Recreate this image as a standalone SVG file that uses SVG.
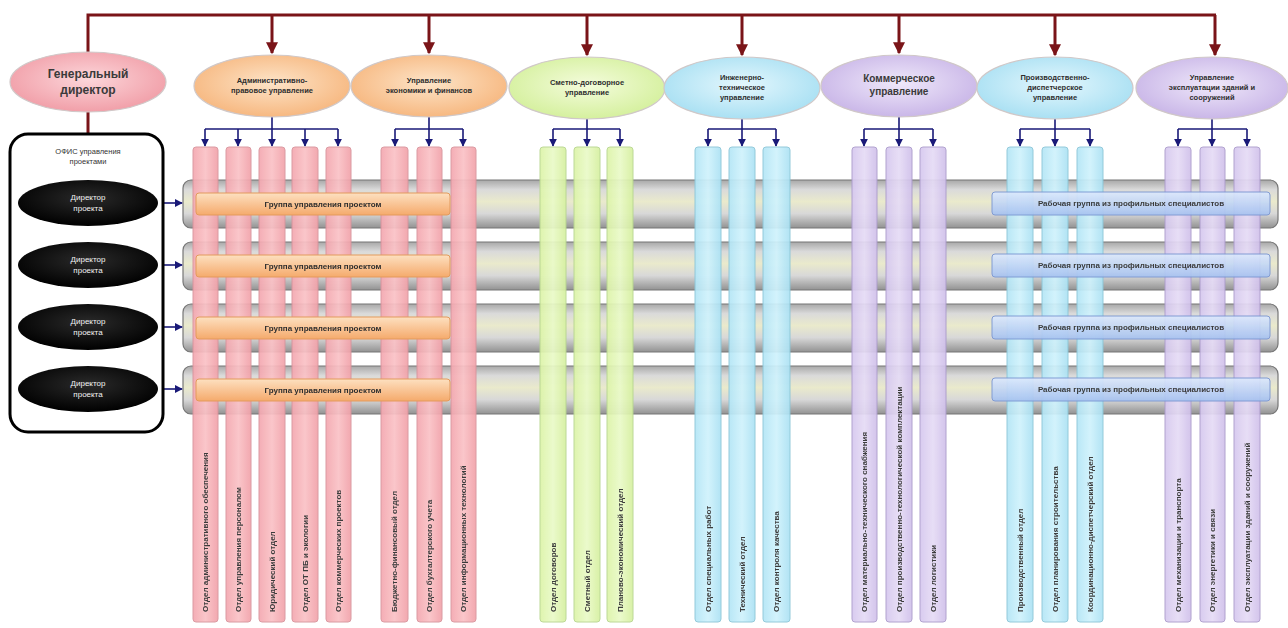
<svg xmlns="http://www.w3.org/2000/svg" width="1288" height="628" viewBox="0 0 1288 628">
  <defs>
    <radialGradient id="gPink" cx="50%" cy="45%" r="60%"><stop offset="0" stop-color="#fcd6da"/><stop offset="1" stop-color="#f09aa4"/></radialGradient>
    <radialGradient id="gOrange" cx="50%" cy="45%" r="60%"><stop offset="0" stop-color="#fde4c8"/><stop offset="1" stop-color="#f6b47a"/></radialGradient>
    <radialGradient id="gGreen" cx="50%" cy="45%" r="60%"><stop offset="0" stop-color="#f4fcdc"/><stop offset="1" stop-color="#d2ef98"/></radialGradient>
    <radialGradient id="gCyan" cx="50%" cy="45%" r="60%"><stop offset="0" stop-color="#e4f7fd"/><stop offset="1" stop-color="#a4def2"/></radialGradient>
    <radialGradient id="gPurple" cx="50%" cy="45%" r="60%"><stop offset="0" stop-color="#efe8fa"/><stop offset="1" stop-color="#c6b2e6"/></radialGradient>
    <radialGradient id="gBlack" cx="50%" cy="40%" r="60%"><stop offset="0" stop-color="#2a2a2a"/><stop offset="1" stop-color="#000"/></radialGradient>
    <linearGradient id="gBar" x1="0" y1="0" x2="0" y2="1">
      <stop offset="0" stop-color="#a8a8a8"/><stop offset="0.2" stop-color="#dadada"/>
      <stop offset="0.45" stop-color="#eaeacc"/><stop offset="0.7" stop-color="#d8d8d8"/>
      <stop offset="1" stop-color="#929292"/>
    </linearGradient>
    <linearGradient id="gOrangeBar" x1="0" y1="0" x2="0" y2="1"><stop offset="0" stop-color="#fde0c0"/><stop offset="1" stop-color="#f5aa6c"/></linearGradient>
    <linearGradient id="gBlueBar" x1="0" y1="0" x2="0" y2="1"><stop offset="0" stop-color="#dce8fc"/><stop offset="1" stop-color="#a6c2ef"/></linearGradient>
    <linearGradient id="cPink" x1="0" y1="0" x2="1" y2="0"><stop offset="0" stop-color="#f4a8b0"/><stop offset="0.5" stop-color="#fac2c6"/><stop offset="1" stop-color="#f2a2aa"/></linearGradient>
    <linearGradient id="cGreen" x1="0" y1="0" x2="1" y2="0"><stop offset="0" stop-color="#dcf4a8"/><stop offset="0.5" stop-color="#eafac8"/><stop offset="1" stop-color="#d6f0a0"/></linearGradient>
    <linearGradient id="cCyan" x1="0" y1="0" x2="1" y2="0"><stop offset="0" stop-color="#b4e6f6"/><stop offset="0.5" stop-color="#d0f2fc"/><stop offset="1" stop-color="#ace2f4"/></linearGradient>
    <linearGradient id="cPurple" x1="0" y1="0" x2="1" y2="0"><stop offset="0" stop-color="#d6c8ee"/><stop offset="0.5" stop-color="#e6dcf6"/><stop offset="1" stop-color="#d0c0ea"/></linearGradient>
    <marker id="arrRed" viewBox="0 0 10 10" refX="9" refY="5" markerWidth="4" markerHeight="4" orient="auto"><path d="M0,0 L10,5 L0,10 z" fill="#7a1418"/></marker>
    <marker id="arrBlue" viewBox="0 0 10 10" refX="9" refY="5" markerWidth="5" markerHeight="5" orient="auto"><path d="M0,0 L10,5 L0,10 z" fill="#1a1a78"/></marker>
  </defs>
  <style>
    .t { font-family: "Liberation Sans", Arial, sans-serif; fill: #2e2e2e; font-weight: bold; }
    .head { font-size: 7.5px; text-anchor: middle; }
    .big { font-size: 12px; text-anchor: middle; fill: #3a3a3a; }
    .mid { font-size: 10px; text-anchor: middle; fill: #3a3a3a; }
    .col { font-size: 8px; text-anchor: start; }
    .bartxt { font-size: 8px; text-anchor: middle; }
    .wt { fill: #f2f2f2; font-size: 8px; text-anchor: middle; font-weight: normal; }
    .ell { stroke: #d0c8c8; stroke-width: 1.2; }
    .bar { fill: url(#gBar); stroke: #767676; stroke-width: 1.2; }
    .ob { fill: url(#gOrangeBar); stroke: #e39a5c; stroke-width: 1; }
    .bb { fill: url(#gBlueBar); stroke: #7a96d2; stroke-width: 1; }
    .red { stroke: #7a1418; stroke-width: 3; fill: none; }
    .blu { stroke: #1a1a78; stroke-width: 1.6; fill: none; }
    .pk { fill: url(#cPink); stroke: #d8949c; stroke-width: 1; }
    .gr { fill: url(#cGreen); stroke: #b8d690; stroke-width: 1; }
    .cy { fill: url(#cCyan); stroke: #8cc6d8; stroke-width: 1; }
    .pu { fill: url(#cPurple); stroke: #ac9ccc; stroke-width: 1; }
  </style>

  <rect width="1288" height="628" fill="#ffffff"/>

  <!-- project rows (grey bands) -->
  <g id="rows">
    <rect class="bar" x="183" y="180" width="1095" height="48" rx="8"/>
    <rect class="bar" x="183" y="242" width="1095" height="48" rx="8"/>
    <rect class="bar" x="183" y="304" width="1095" height="48" rx="8"/>
    <rect class="bar" x="183" y="366" width="1095" height="48" rx="8"/>
  </g>

  <!-- connectors -->
  <g id="connectors">
    <polyline class="red" points="88,53 88,15 1216,15"/>
    <line class="red" x1="272" y1="15" x2="272" y2="53" marker-end="url(#arrRed)"/>
    <line class="red" x1="429" y1="15" x2="429" y2="53" marker-end="url(#arrRed)"/>
    <line class="red" x1="587" y1="15" x2="587" y2="55" marker-end="url(#arrRed)"/>
    <line class="red" x1="742" y1="15" x2="742" y2="55" marker-end="url(#arrRed)"/>
    <line class="red" x1="899" y1="15" x2="899" y2="53" marker-end="url(#arrRed)"/>
    <line class="red" x1="1055" y1="15" x2="1055" y2="55" marker-end="url(#arrRed)"/>
    <line class="red" x1="1215" y1="15" x2="1215" y2="55" marker-end="url(#arrRed)"/>
    <line class="red" x1="88" y1="112" x2="88" y2="134"/>

    <!-- department branches -->
    <path class="blu" d="M272,117 V129 M205,129 H338"/>
    <line class="blu" x1="205" y1="129" x2="205" y2="146" marker-end="url(#arrBlue)"/>
    <line class="blu" x1="238" y1="129" x2="238" y2="146" marker-end="url(#arrBlue)"/>
    <line class="blu" x1="272" y1="129" x2="272" y2="146" marker-end="url(#arrBlue)"/>
    <line class="blu" x1="305" y1="129" x2="305" y2="146" marker-end="url(#arrBlue)"/>
    <line class="blu" x1="338" y1="129" x2="338" y2="146" marker-end="url(#arrBlue)"/>

    <path class="blu" d="M429,117 V129 M395,129 H463"/>
    <line class="blu" x1="395" y1="129" x2="395" y2="146" marker-end="url(#arrBlue)"/>
    <line class="blu" x1="429" y1="129" x2="429" y2="146" marker-end="url(#arrBlue)"/>
    <line class="blu" x1="463" y1="129" x2="463" y2="146" marker-end="url(#arrBlue)"/>

    <path class="blu" d="M587,119 V129 M553,129 H620"/>
    <line class="blu" x1="553" y1="129" x2="553" y2="146" marker-end="url(#arrBlue)"/>
    <line class="blu" x1="587" y1="129" x2="587" y2="146" marker-end="url(#arrBlue)"/>
    <line class="blu" x1="620" y1="129" x2="620" y2="146" marker-end="url(#arrBlue)"/>

    <path class="blu" d="M742,119 V129 M708,129 H776"/>
    <line class="blu" x1="708" y1="129" x2="708" y2="146" marker-end="url(#arrBlue)"/>
    <line class="blu" x1="742" y1="129" x2="742" y2="146" marker-end="url(#arrBlue)"/>
    <line class="blu" x1="776" y1="129" x2="776" y2="146" marker-end="url(#arrBlue)"/>

    <path class="blu" d="M899,117 V129 M864,129 H933"/>
    <line class="blu" x1="864" y1="129" x2="864" y2="146" marker-end="url(#arrBlue)"/>
    <line class="blu" x1="899" y1="129" x2="899" y2="146" marker-end="url(#arrBlue)"/>
    <line class="blu" x1="933" y1="129" x2="933" y2="146" marker-end="url(#arrBlue)"/>

    <path class="blu" d="M1055,119 V129 M1020,129 H1090"/>
    <line class="blu" x1="1020" y1="129" x2="1020" y2="146" marker-end="url(#arrBlue)"/>
    <line class="blu" x1="1055" y1="129" x2="1055" y2="146" marker-end="url(#arrBlue)"/>
    <line class="blu" x1="1090" y1="129" x2="1090" y2="146" marker-end="url(#arrBlue)"/>

    <path class="blu" d="M1212,119 V129 M1178,129 H1247"/>
    <line class="blu" x1="1178" y1="129" x2="1178" y2="146" marker-end="url(#arrBlue)"/>
    <line class="blu" x1="1212" y1="129" x2="1212" y2="146" marker-end="url(#arrBlue)"/>
    <line class="blu" x1="1247" y1="129" x2="1247" y2="146" marker-end="url(#arrBlue)"/>

    <!-- project directors to rows -->
    <line class="blu" x1="158" y1="203" x2="182" y2="203" marker-end="url(#arrBlue)"/>
    <line class="blu" x1="158" y1="265" x2="182" y2="265" marker-end="url(#arrBlue)"/>
    <line class="blu" x1="158" y1="327" x2="182" y2="327" marker-end="url(#arrBlue)"/>
    <line class="blu" x1="158" y1="389" x2="182" y2="389" marker-end="url(#arrBlue)"/>
  </g>

  <!-- top-level nodes -->
  <g id="gen-director">
    <ellipse class="ell" cx="88" cy="82" rx="78" ry="30" fill="url(#gPink)"/>
    <text class="t big" x="88" y="78">Генеральный</text>
    <text class="t big" x="88" y="94">директор</text>
  </g>
  <g id="admin">
    <ellipse class="ell" cx="272" cy="86" rx="78" ry="31" fill="url(#gOrange)"/>
    <text class="t head" x="272" y="83">Административно-</text>
    <text class="t head" x="272" y="93">правовое управление</text>
  </g>
  <g id="economy">
    <ellipse class="ell" cx="429" cy="86" rx="78" ry="31" fill="url(#gOrange)"/>
    <text class="t head" x="429" y="83">Управление</text>
    <text class="t head" x="429" y="93">экономики и финансов</text>
  </g>
  <g id="estimates">
    <ellipse class="ell" cx="587" cy="88" rx="78" ry="31" fill="url(#gGreen)"/>
    <text class="t head" x="587" y="85">Сметно-договорное</text>
    <text class="t head" x="587" y="95">управление</text>
  </g>
  <g id="engineering">
    <ellipse class="ell" cx="742" cy="88" rx="78" ry="31" fill="url(#gCyan)"/>
    <text class="t head" x="742" y="80">Инженерно-</text>
    <text class="t head" x="742" y="90">техническое</text>
    <text class="t head" x="742" y="100">управление</text>
  </g>
  <g id="commercial">
    <ellipse class="ell" cx="899" cy="86" rx="78" ry="31" fill="url(#gPurple)"/>
    <text class="t mid" x="899" y="82">Коммерческое</text>
    <text class="t mid" x="899" y="95">управление</text>
  </g>
  <g id="production">
    <ellipse class="ell" cx="1055" cy="88" rx="78" ry="31" fill="url(#gCyan)"/>
    <text class="t head" x="1055" y="80">Производственно-</text>
    <text class="t head" x="1055" y="90">диспетчерское</text>
    <text class="t head" x="1055" y="100">управление</text>
  </g>
  <g id="operations">
    <ellipse class="ell" cx="1212" cy="88" rx="76" ry="31" fill="url(#gPurple)"/>
    <text class="t head" x="1212" y="80">Управление</text>
    <text class="t head" x="1212" y="90">эксплуатации зданий и</text>
    <text class="t head" x="1212" y="100">сооружений</text>
  </g>

  <!-- project management office -->
  <g id="pmo">
    <rect x="10" y="134" width="153" height="298" rx="18" fill="#ffffff" stroke="#000" stroke-width="3"/>
    <text class="t head" x="88" y="154" style="font-weight:normal;fill:#333">ОФИС управления</text>
    <text class="t head" x="88" y="164" style="font-weight:normal;fill:#333">проектами</text>
    <ellipse cx="88" cy="203" rx="70" ry="23" fill="url(#gBlack)"/>
    <text class="t wt" x="88" y="200">Директор</text><text class="t wt" x="88" y="211">проекта</text>
    <ellipse cx="88" cy="265" rx="70" ry="23" fill="url(#gBlack)"/>
    <text class="t wt" x="88" y="262">Директор</text><text class="t wt" x="88" y="273">проекта</text>
    <ellipse cx="88" cy="327" rx="70" ry="23" fill="url(#gBlack)"/>
    <text class="t wt" x="88" y="324">Директор</text><text class="t wt" x="88" y="335">проекта</text>
    <ellipse cx="88" cy="389" rx="70" ry="23" fill="url(#gBlack)"/>
    <text class="t wt" x="88" y="386">Директор</text><text class="t wt" x="88" y="397">проекта</text>
  </g>

  <!-- departments (vertical columns) -->
  <g id="departments" opacity="0.93">
    <g id="dep-admin">
      <rect class="pk" x="193" y="147" width="25" height="475" rx="3"/>
      <rect class="pk" x="226" y="147" width="25" height="475" rx="3"/>
      <rect class="pk" x="259" y="147" width="26" height="475" rx="3"/>
      <rect class="pk" x="292" y="147" width="26" height="475" rx="3"/>
      <rect class="pk" x="326" y="147" width="25" height="475" rx="3"/>
      <text class="t col" transform="translate(208,612) rotate(-90)">Отдел административного обеспечения</text>
      <text class="t col" transform="translate(241,612) rotate(-90)">Отдел управления персоналом</text>
      <text class="t col" transform="translate(275,612) rotate(-90)">Юридический отдел</text>
      <text class="t col" transform="translate(308,612) rotate(-90)">Отдел ОТ ПБ и экологии</text>
      <text class="t col" transform="translate(341,612) rotate(-90)">Отдел коммерческих проектов</text>
    </g>
    <g id="dep-economy">
      <rect class="pk" x="381" y="147" width="27" height="475" rx="3"/>
      <rect class="pk" x="417" y="147" width="25" height="475" rx="3"/>
      <rect class="pk" x="451" y="147" width="25" height="475" rx="3"/>
      <text class="t col" transform="translate(397,612) rotate(-90)">Бюджетно-финансовый отдел</text>
      <text class="t col" transform="translate(432,612) rotate(-90)">Отдел бухгалтерского учета</text>
      <text class="t col" transform="translate(466,612) rotate(-90)">Отдел информационных технологий</text>
    </g>
    <g id="dep-estimates">
      <rect class="gr" x="540" y="147" width="26" height="475" rx="3"/>
      <rect class="gr" x="574" y="147" width="26" height="475" rx="3"/>
      <rect class="gr" x="607" y="147" width="26" height="475" rx="3"/>
      <text class="t col" transform="translate(556,612) rotate(-90)">Отдел договоров</text>
      <text class="t col" transform="translate(590,612) rotate(-90)">Сметный отдел</text>
      <text class="t col" transform="translate(623,612) rotate(-90)">Планово-экономический отдел</text>
    </g>
    <g id="dep-engineering">
      <rect class="cy" x="695" y="147" width="26" height="475" rx="3"/>
      <rect class="cy" x="729" y="147" width="26" height="475" rx="3"/>
      <rect class="cy" x="763" y="147" width="27" height="475" rx="3"/>
      <text class="t col" transform="translate(711,612) rotate(-90)">Отдел специальных работ</text>
      <text class="t col" transform="translate(745,612) rotate(-90)">Технический отдел</text>
      <text class="t col" transform="translate(779,612) rotate(-90)">Отдел контроля качества</text>
    </g>
    <g id="dep-commercial">
      <rect class="pu" x="852" y="147" width="25" height="475" rx="3"/>
      <rect class="pu" x="886" y="147" width="26" height="475" rx="3"/>
      <rect class="pu" x="920" y="147" width="26" height="475" rx="3"/>
      <text class="t col" transform="translate(867,612) rotate(-90)">Отдел материально-технического снабжения</text>
      <text class="t col" transform="translate(902,612) rotate(-90)">Отдел производственно-технологической комплектации</text>
      <text class="t col" transform="translate(936,612) rotate(-90)">Отдел логистики</text>
    </g>
    <g id="dep-production">
      <rect class="cy" x="1007" y="147" width="26" height="475" rx="3"/>
      <rect class="cy" x="1042" y="147" width="26" height="475" rx="3"/>
      <rect class="cy" x="1077" y="147" width="26" height="475" rx="3"/>
      <text class="t col" transform="translate(1023,612) rotate(-90)">Производственный отдел</text>
      <text class="t col" transform="translate(1058,612) rotate(-90)">Отдел планирования строительства</text>
      <text class="t col" transform="translate(1093,612) rotate(-90)">Координационно-диспетчерский отдел</text>
    </g>
    <g id="dep-operations">
      <rect class="pu" x="1165" y="147" width="26" height="475" rx="3"/>
      <rect class="pu" x="1200" y="147" width="25" height="475" rx="3"/>
      <rect class="pu" x="1234" y="147" width="26" height="475" rx="3"/>
      <text class="t col" transform="translate(1181,612) rotate(-90)">Отдел механизации и транспорта</text>
      <text class="t col" transform="translate(1215,612) rotate(-90)">Отдел энергетики и связи</text>
      <text class="t col" transform="translate(1250,612) rotate(-90)">Отдел эксплуатации зданий и сооружений</text>
    </g>
  </g>

  <!-- project teams -->
  <g id="project-teams">
    <rect class="ob" x="196" y="193" width="254" height="22" rx="3"/>
    <text class="t bartxt" x="323" y="207">Группа управления проектом</text>
    <rect class="ob" x="196" y="255" width="254" height="22" rx="3"/>
    <text class="t bartxt" x="323" y="269">Группа управления проектом</text>
    <rect class="ob" x="196" y="317" width="254" height="22" rx="3"/>
    <text class="t bartxt" x="323" y="331">Группа управления проектом</text>
    <rect class="ob" x="196" y="379" width="254" height="22" rx="3"/>
    <text class="t bartxt" x="323" y="393">Группа управления проектом</text>
  </g>

  <!-- specialist working groups -->
  <g id="work-groups" opacity="0.92">
    <rect class="bb" x="992" y="192" width="278" height="23" rx="3"/>
    <text class="t bartxt" x="1131" y="206">Рабочая группа из профильных специалистов</text>
    <rect class="bb" x="992" y="254" width="278" height="23" rx="3"/>
    <text class="t bartxt" x="1131" y="268">Рабочая группа из профильных специалистов</text>
    <rect class="bb" x="992" y="316" width="278" height="23" rx="3"/>
    <text class="t bartxt" x="1131" y="330">Рабочая группа из профильных специалистов</text>
    <rect class="bb" x="992" y="378" width="278" height="23" rx="3"/>
    <text class="t bartxt" x="1131" y="392">Рабочая группа из профильных специалистов</text>
  </g>
</svg>
